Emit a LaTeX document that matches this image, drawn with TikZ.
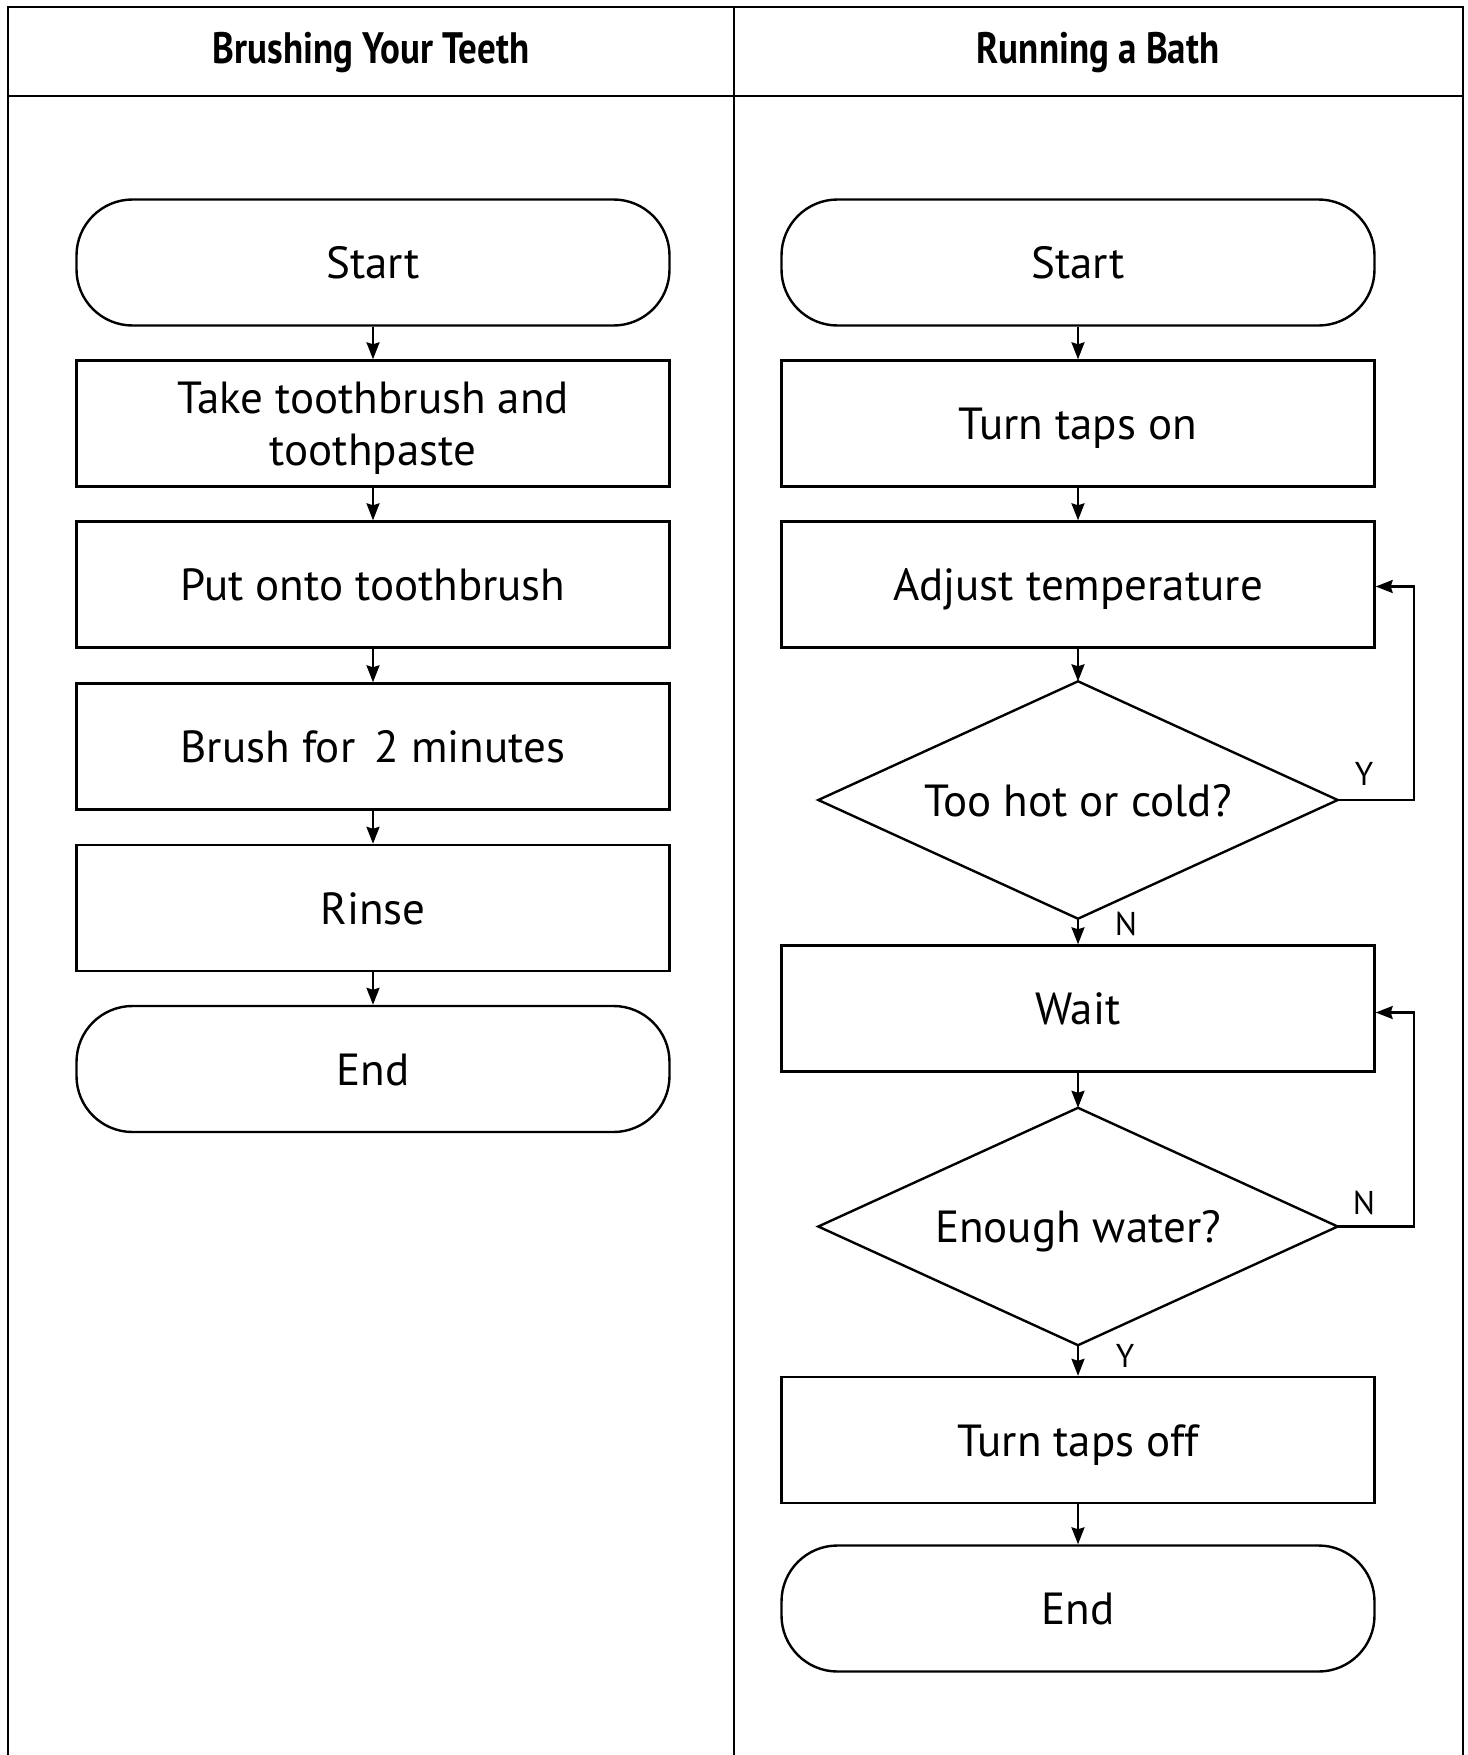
\documentclass[tikz,border=0pt]{standalone}
\usepackage{fontspec}
\setmainfont{PT Sans}
\newfontfamily\headfont[FakeStretch=0.84]{PT Sans}
\usetikzlibrary{shapes.geometric,arrows.meta}
\tikzset{
  frame/.style={line width=2.6pt},
  boxtext/.style={align=center,font=\fontsize{45}{52}\selectfont,text height=32pt,text depth=0pt},
  shapeline/.style={draw,line width=2.4pt,inner sep=0pt,boxtext},
  procbox/.style={shapeline,rectangle,minimum width=593pt,minimum height=126pt},
  twoline/.style={text height=84pt},
  termbox/.style={shapeline,rectangle,rounded corners=56pt,minimum width=593pt,minimum height=126pt},
  % the decision outline is drawn from the anchors of this frame
  decbox/.style={rectangle,inner sep=0pt,boxtext,minimum width=519pt,minimum height=237pt},
  decline/.style={line width=2.4pt,line join=miter},
  flow/.style={line width=2.2pt,-{Stealth[length=17pt,width=13pt,inset=2pt]}},
  branch/.style={font=\fontsize{33}{36}\selectfont},
  headtext/.style={font=\headfont\bfseries\fontsize{44}{48}\selectfont}
}
\begin{document}
\begin{tikzpicture}[x=1pt,y=-1pt]
\useasboundingbox (0,0) rectangle (1467,1755);
% table frame
\draw[frame] (8,1760) -- (8,7) -- (1463,7) -- (1463,1760);
\draw[frame] (734,7) -- (734,1760);
\draw[frame] (8,96) -- (1463,96);
\node[headtext] (h1) at (371,53) {Brushing Your Teeth};
\node[headtext] (h2) at (1098,53) {Running a Bath};

% brushing teeth
\node[termbox] (ls) at (373,262.5) {Start};
\node[procbox,twoline] (l1) at (373,423.5) {Take toothbrush and\\toothpaste};
\node[procbox] (l2) at (373,584.5) {Put onto toothbrush};
\node[procbox] (l3) at (373,746.5) {Brush for \,2 minutes};
\node[procbox] (l4) at (373,908) {Rinse};
\node[termbox] (le) at (373,1069) {End};
\draw[flow] (ls) -- (l1);
\draw[flow] (l1) -- (l2);
\draw[flow] (l2) -- (l3);
\draw[flow] (l3) -- (l4);
\draw[flow] (l4) -- (le);

% running a bath
\node[termbox] (rs) at (1078,262.5) {Start};
\node[procbox] (r1) at (1078,423.5) {Turn taps on};
\node[procbox] (r2) at (1078,584.5) {Adjust temperature};
\node[decbox]  (d1) at (1078,800) {Too hot or cold?};
\node[procbox] (r3) at (1078,1008.5) {Wait};
\node[decbox]  (d2) at (1078,1226.5) {Enough water?};
\node[procbox] (r4) at (1078,1440) {Turn taps off};
\node[termbox] (re) at (1078,1608.5) {End};
\draw[decline] (d1.north) -- (d1.east) -- (d1.south) -- (d1.west) -- cycle;
\draw[decline] (d2.north) -- (d2.east) -- (d2.south) -- (d2.west) -- cycle;
\draw[flow] (rs) -- (r1);
\draw[flow] (r1) -- (r2);
\draw[flow] (r2) -- (d1.north);
\draw[flow] (d1.south) -- (r3);
\draw[flow] (r3) -- (d2.north);
\draw[flow] (d2.south) -- (r4);
\draw[flow] (r4) -- (re);
\draw[flow] (d1.east) -- (1414,800) |- ([yshift=-2pt]r2.east);
\draw[flow] (d2.east) -- (1414,1226.5) |- ([yshift=-4pt]r3.east);
\node[branch] (y1) at (1364,774) {Y};
\node[branch] (n1) at (1126,924) {N};
\node[branch] (n2) at (1364,1203) {N};
\node[branch] (y2) at (1125,1356) {Y};
\end{tikzpicture}
\end{document}
